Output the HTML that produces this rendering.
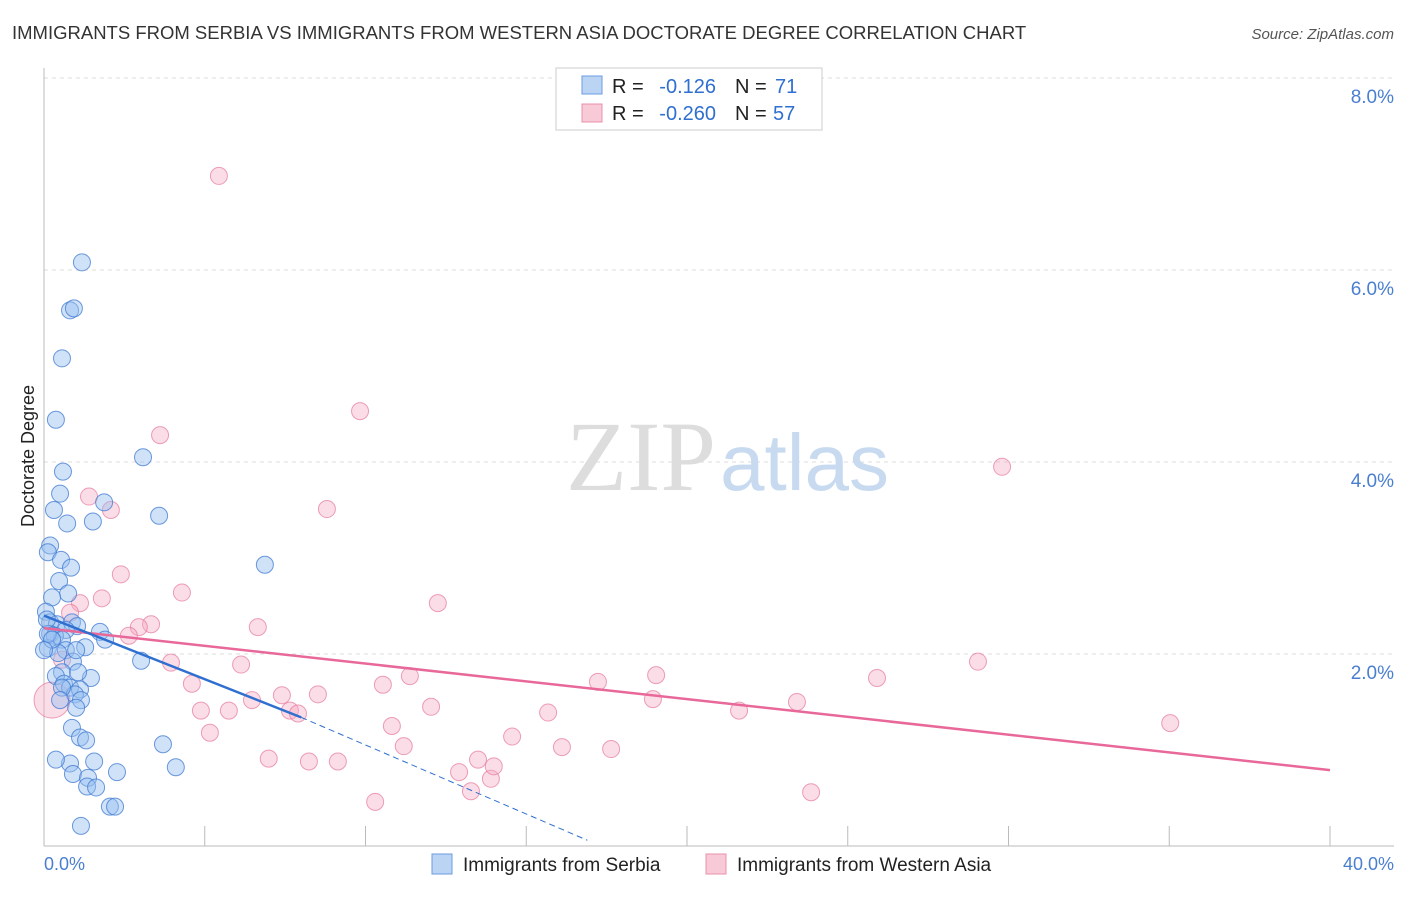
<!DOCTYPE html>
<html><head><meta charset="utf-8"><style>
body{margin:0;background:#fff;font-family:"Liberation Sans",sans-serif}
</style></head><body>
<svg width="1406" height="892" viewBox="0 0 1406 892" font-family="Liberation Sans, sans-serif">
<text x="12" y="39" font-size="18.5" fill="#333">IMMIGRANTS FROM SERBIA VS IMMIGRANTS FROM WESTERN ASIA DOCTORATE DEGREE CORRELATION CHART</text>
<text x="1394" y="39" font-size="15" fill="#555" font-style="italic" text-anchor="end">Source: ZipAtlas.com</text>
<g id="grid"></g>
<text x="716" y="490" font-size="100" fill="#ddd" text-anchor="end" style="font-family:'Liberation Serif',serif">ZIP</text>
<text x="720" y="490" font-size="80" fill="#c8daf0">atlas</text>
<line x1="44" y1="68" x2="44" y2="846" stroke="#bbb"/>
<line x1="44" y1="846" x2="1394" y2="846" stroke="#bbb"/>
<text transform="translate(34,456) rotate(-90)" font-size="18" fill="#222" text-anchor="middle">Doctorate Degree</text>
<text x="44" y="870" font-size="18" fill="#4a7fd0">0.0%</text>
<text x="1394" y="870" font-size="18" fill="#4a7fd0" text-anchor="end">40.0%</text>
<g id="marks"></g>
<g font-size="20">
<rect x="556" y="68" width="266" height="62" fill="#fff" stroke="#ccc"/>
<rect x="582" y="76" width="20" height="18" fill="#bcd4f4" stroke="#6a9be0"/>
<rect x="582" y="104" width="20" height="18" fill="#f8cad8" stroke="#e890aa"/>
<text x="612" y="93" fill="#222">R =</text>
<text x="716" y="93" fill="#2f6fd0" text-anchor="end">-0.126</text>
<text x="735" y="93" fill="#222">N =</text>
<text x="775" y="93" fill="#2f6fd0">71</text>
<text x="612" y="120" fill="#222">R =</text>
<text x="716" y="120" fill="#2f6fd0" text-anchor="end">-0.260</text>
<text x="735" y="120" fill="#222">N =</text>
<text x="773" y="120" fill="#2f6fd0">57</text>
</g>
<g>
<rect x="432" y="854" width="20" height="20" fill="#bcd4f4" stroke="#6a9be0"/>
<text x="463" y="871" font-size="19" fill="#222">Immigrants from Serbia</text>
<rect x="706" y="854" width="20" height="20" fill="#f8cad8" stroke="#e890aa"/>
<text x="737" y="871" font-size="19" fill="#222">Immigrants from Western Asia</text>
</g>
</svg>
<script>
const yTicks=[2,4,6,8];
const xTicks=[0,5,10,15,20,25,30,35,40];
const serbiaX=[1.18,0.81,0.93,0.56,0.37,3.08,0.59,3.58,0.50,0.31,1.87,0.72,1.52,0.19,0.12,0.53,0.84,6.87,0.47,0.75,0.25,0.06,0.19,0.40,0.87,1.03,0.68,0.19,0.34,0.56,1.28,0.12,0.68,0.44,0.90,3.02,0.56,1.46,0.37,0.62,0.81,1.12,0.96,1.15,0.56,1.00,0.87,1.12,1.31,3.70,0.81,1.56,0.90,1.37,2.27,4.10,1.34,1.62,2.05,2.21,1.15,0.12,0.25,0,1.00,1.74,1.90,0.09,0.37,1.06,0.50];
const serbiaY=[6.08,5.58,5.60,5.08,4.44,4.05,3.90,3.44,3.67,3.50,3.58,3.36,3.38,3.13,3.06,2.98,2.90,2.93,2.76,2.63,2.59,2.44,2.33,2.31,2.33,2.29,2.25,2.21,2.19,2.15,2.07,2.06,2.04,2.01,1.92,1.93,1.81,1.75,1.77,1.69,1.65,1.63,1.58,1.52,1.65,1.44,1.23,1.13,1.10,1.06,0.86,0.88,0.75,0.71,0.77,0.82,0.62,0.61,0.41,0.41,0.21,2.21,2.15,2.04,2.04,2.23,2.15,2.36,0.90,1.81,1.52];
const asiaX=[5.44,9.83,3.61,29.80,1.40,2.08,8.80,2.39,4.29,1.80,1.12,12.25,3.33,2.95,6.65,2.64,3.95,6.13,29.05,19.04,17.23,4.60,10.54,11.38,25.91,8.52,7.40,6.47,18.94,23.42,12.04,5.75,4.88,7.65,7.90,15.68,21.62,10.82,35.03,5.16,14.56,11.19,16.11,17.64,6.99,8.24,9.14,13.50,12.91,13.90,13.99,10.30,13.28,23.86,0.25,0.81,0.56];
const asiaY=[6.98,4.53,4.28,3.95,3.64,3.50,3.51,2.83,2.64,2.58,2.53,2.53,2.31,2.28,2.28,2.19,1.91,1.89,1.92,1.78,1.71,1.69,1.68,1.77,1.75,1.58,1.57,1.52,1.53,1.50,1.45,1.41,1.41,1.41,1.38,1.39,1.41,1.25,1.28,1.18,1.14,1.04,1.03,1.01,0.91,0.88,0.88,0.90,0.77,0.70,0.83,0.46,0.57,0.56,1.52,2.43,1.94];
const serbiaTrend=[[0,2.40],[8.0,1.34]];
const serbiaDash=[[8.0,1.34],[16.9,0.06]];
const asiaTrend=[[0,2.27],[40,0.79]];
const X0=44,X1=1330,Y0=846,PX=96;
function sx(v){return X0+(X1-X0)*v/40;}
function sy(v){return Y0-v*PX;}
const NS='http://www.w3.org/2000/svg';
const grid=document.getElementById('grid'),marks=document.getElementById('marks');
function mk(tag,a,p){const e=document.createElementNS(NS,tag);for(const k in a)e.setAttribute(k,a[k]);p.appendChild(e);return e;}
yTicks.forEach(t=>{
const l=mk('line',{x1:44,x2:1394,y1:sy(t),y2:sy(t),stroke:'#ddd','stroke-dasharray':'4,4'},grid);


const tx=mk('text',{x:1394,y:sy(t)+25,'font-size':19,fill:'#4a7fd0','text-anchor':'end'},grid);
tx.textContent=t.toFixed(1)+'%';


});
xTicks.forEach(t=>{
const l=mk('line',{x1:sx(t),x2:sx(t),y1:826,y2:846,stroke:'#bbb'},grid);


});
asiaX.forEach((x,i)=>{
const c=mk('circle',{cx:sx(x),cy:sy(asiaY[i]),r:(i==54?18:8.5),fill:'rgba(245,170,195,0.4)',stroke:'rgba(230,120,155,0.7)','stroke-width':1},marks);


});
serbiaX.forEach((x,i)=>{
const c=mk('circle',{cx:sx(x),cy:sy(serbiaY[i]),r:8.5,fill:'rgba(150,190,240,0.45)',stroke:'rgba(60,120,210,0.75)','stroke-width':1},marks);


});
function ln(p,st,name){const l=mk('line',Object.assign({x1:sx(p[0][0]),y1:sy(p[0][1]),x2:sx(p[1][0]),y2:sy(p[1][1])},st),marks);

}
ln(asiaTrend,{stroke:'#e8689a','stroke-width':2.5},'western-asia-trendline');
ln(serbiaTrend,{stroke:'#2f6fd0','stroke-width':2.5},'serbia-trendline');
ln(serbiaDash,{stroke:'#2f6fd0','stroke-width':1,'stroke-dasharray':'6,4'},'serbia-trendline-extension');
</script>
</body></html>
